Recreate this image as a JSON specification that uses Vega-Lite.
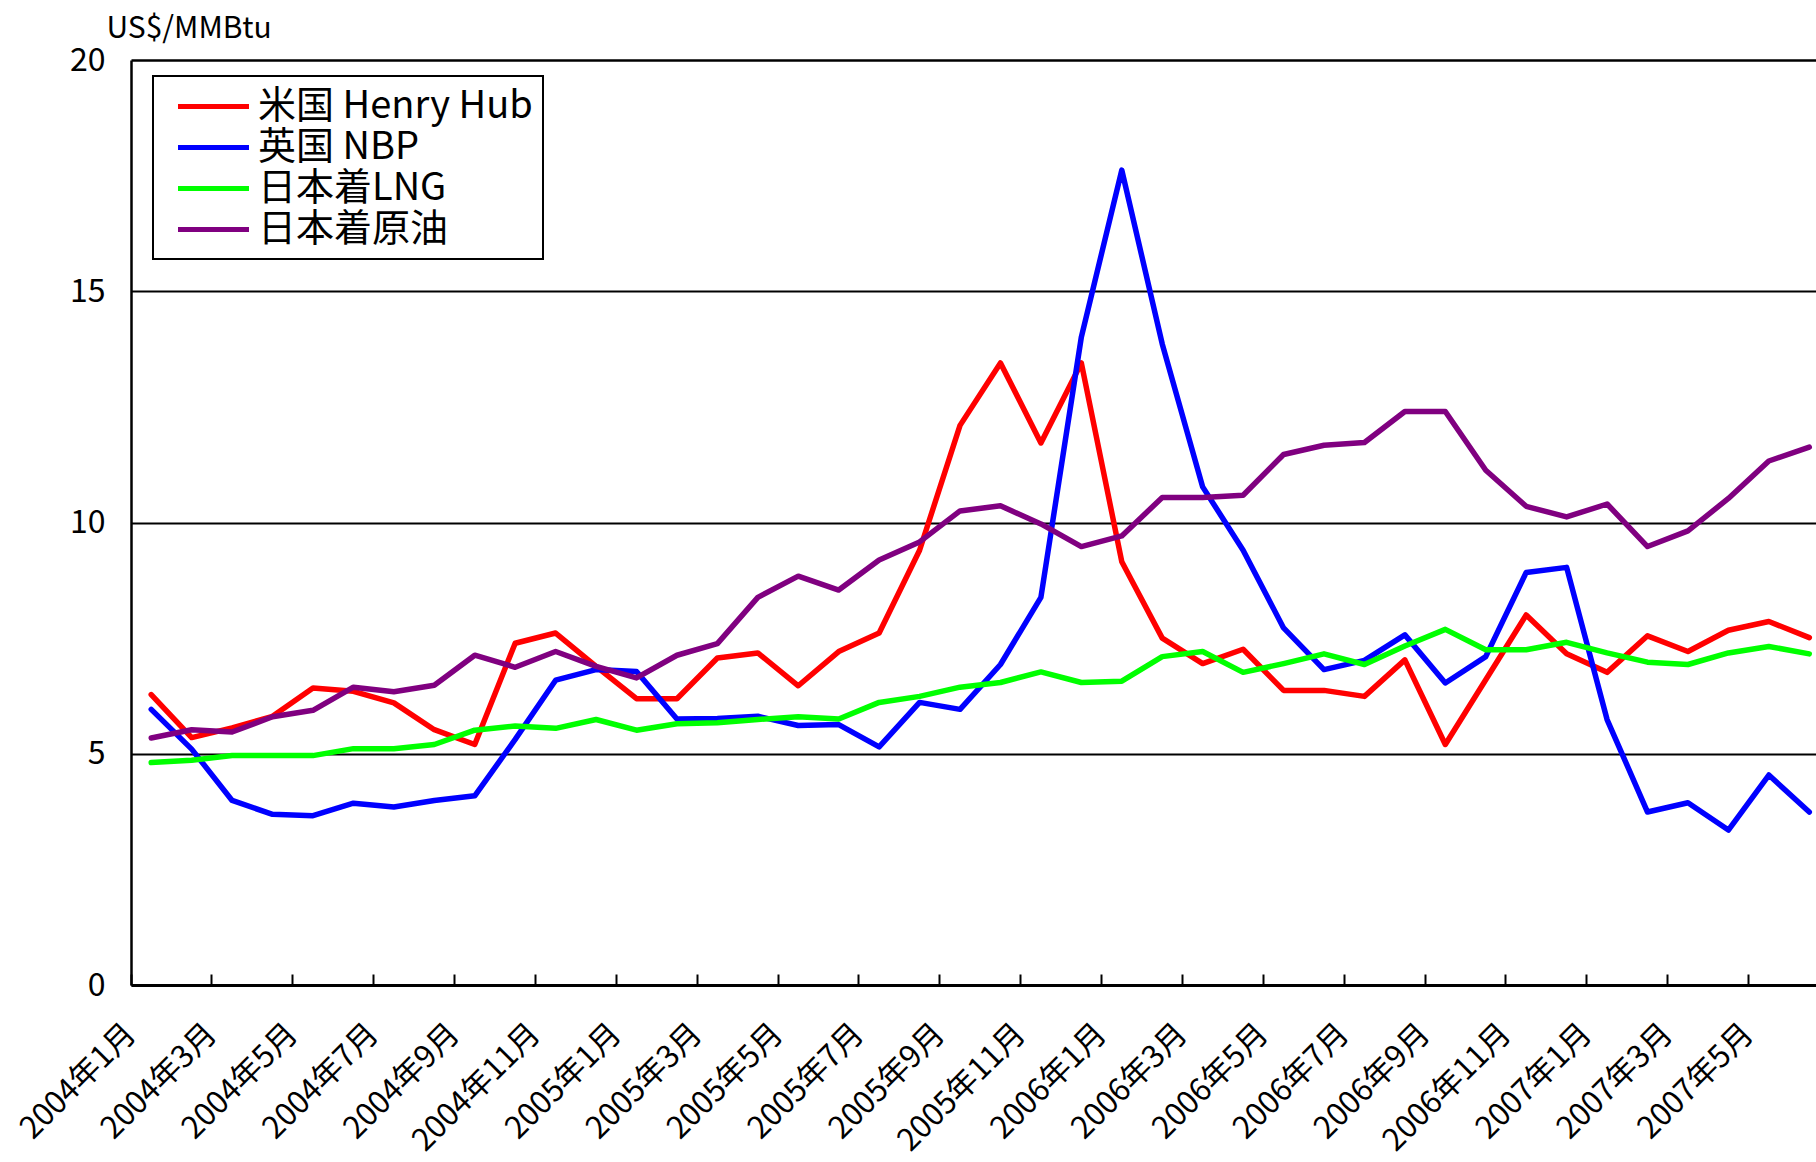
{
  "$schema": "https://vega.github.io/schema/vega-lite/v6.json",
  "autosize": {"type": "none"},
  "padding": {"left": 131, "top": 60, "right": 0, "bottom": 177},
  "width": 1685,
  "height": 925,
  "background": "white",
  "config": {"view": {"stroke": null}, "font": "Noto Sans CJK JP", "legend": {"strokeWidth": 2}},
  "datasets": {
    "prices": [
      {"month":"2004年1月","series":"米国 Henry Hub","value":6.28},{"month":"2004年2月","series":"米国 Henry Hub","value":5.35},{"month":"2004年3月","series":"米国 Henry Hub","value":5.56},{"month":"2004年4月","series":"米国 Henry Hub","value":5.81},{"month":"2004年5月","series":"米国 Henry Hub","value":6.42},{"month":"2004年6月","series":"米国 Henry Hub","value":6.35},{"month":"2004年7月","series":"米国 Henry Hub","value":6.10},{"month":"2004年8月","series":"米国 Henry Hub","value":5.52},{"month":"2004年9月","series":"米国 Henry Hub","value":5.20},{"month":"2004年10月","series":"米国 Henry Hub","value":7.39},{"month":"2004年11月","series":"米国 Henry Hub","value":7.61},{"month":"2004年12月","series":"米国 Henry Hub","value":6.89},
      {"month":"2005年1月","series":"米国 Henry Hub","value":6.19},{"month":"2005年2月","series":"米国 Henry Hub","value":6.19},{"month":"2005年3月","series":"米国 Henry Hub","value":7.07},{"month":"2005年4月","series":"米国 Henry Hub","value":7.18},{"month":"2005年5月","series":"米国 Henry Hub","value":6.47},{"month":"2005年6月","series":"米国 Henry Hub","value":7.21},{"month":"2005年7月","series":"米国 Henry Hub","value":7.61},{"month":"2005年8月","series":"米国 Henry Hub","value":9.40},{"month":"2005年9月","series":"米国 Henry Hub","value":12.10},{"month":"2005年10月","series":"米国 Henry Hub","value":13.45},{"month":"2005年11月","series":"米国 Henry Hub","value":11.72},{"month":"2005年12月","series":"米国 Henry Hub","value":13.45},
      {"month":"2006年1月","series":"米国 Henry Hub","value":9.15},{"month":"2006年2月","series":"米国 Henry Hub","value":7.50},{"month":"2006年3月","series":"米国 Henry Hub","value":6.95},{"month":"2006年4月","series":"米国 Henry Hub","value":7.26},{"month":"2006年5月","series":"米国 Henry Hub","value":6.37},{"month":"2006年6月","series":"米国 Henry Hub","value":6.37},{"month":"2006年7月","series":"米国 Henry Hub","value":6.24},{"month":"2006年8月","series":"米国 Henry Hub","value":7.03},{"month":"2006年9月","series":"米国 Henry Hub","value":5.20},{"month":"2006年10月","series":"米国 Henry Hub","value":6.60},{"month":"2006年11月","series":"米国 Henry Hub","value":8.00},{"month":"2006年12月","series":"米国 Henry Hub","value":7.16},
      {"month":"2007年1月","series":"米国 Henry Hub","value":6.76},{"month":"2007年2月","series":"米国 Henry Hub","value":7.55},{"month":"2007年3月","series":"米国 Henry Hub","value":7.21},{"month":"2007年4月","series":"米国 Henry Hub","value":7.67},{"month":"2007年5月","series":"米国 Henry Hub","value":7.86},{"month":"2007年6月","series":"米国 Henry Hub","value":7.51},

      {"month":"2004年1月","series":"英国 NBP","value":5.96},{"month":"2004年2月","series":"英国 NBP","value":5.10},{"month":"2004年3月","series":"英国 NBP","value":3.99},{"month":"2004年4月","series":"英国 NBP","value":3.69},{"month":"2004年5月","series":"英国 NBP","value":3.66},{"month":"2004年6月","series":"英国 NBP","value":3.93},{"month":"2004年7月","series":"英国 NBP","value":3.85},{"month":"2004年8月","series":"英国 NBP","value":3.99},{"month":"2004年9月","series":"英国 NBP","value":4.09},{"month":"2004年10月","series":"英国 NBP","value":5.31},{"month":"2004年11月","series":"英国 NBP","value":6.59},{"month":"2004年12月","series":"英国 NBP","value":6.82},
      {"month":"2005年1月","series":"英国 NBP","value":6.78},{"month":"2005年2月","series":"英国 NBP","value":5.75},{"month":"2005年3月","series":"英国 NBP","value":5.76},{"month":"2005年4月","series":"英国 NBP","value":5.81},{"month":"2005年5月","series":"英国 NBP","value":5.61},{"month":"2005年6月","series":"英国 NBP","value":5.63},{"month":"2005年7月","series":"英国 NBP","value":5.15},{"month":"2005年8月","series":"英国 NBP","value":6.11},{"month":"2005年9月","series":"英国 NBP","value":5.96},{"month":"2005年10月","series":"英国 NBP","value":6.93},{"month":"2005年11月","series":"英国 NBP","value":8.38},{"month":"2005年12月","series":"英国 NBP","value":14.01},
      {"month":"2006年1月","series":"英国 NBP","value":17.62},{"month":"2006年2月","series":"英国 NBP","value":13.86},{"month":"2006年3月","series":"英国 NBP","value":10.77},{"month":"2006年4月","series":"英国 NBP","value":9.40},{"month":"2006年5月","series":"英国 NBP","value":7.72},{"month":"2006年6月","series":"英国 NBP","value":6.82},{"month":"2006年7月","series":"英国 NBP","value":7.02},{"month":"2006年8月","series":"英国 NBP","value":7.57},{"month":"2006年9月","series":"英国 NBP","value":6.53},{"month":"2006年10月","series":"英国 NBP","value":7.10},{"month":"2006年11月","series":"英国 NBP","value":8.92},{"month":"2006年12月","series":"英国 NBP","value":9.03},
      {"month":"2007年1月","series":"英国 NBP","value":5.74},{"month":"2007年2月","series":"英国 NBP","value":3.74},{"month":"2007年3月","series":"英国 NBP","value":3.94},{"month":"2007年4月","series":"英国 NBP","value":3.35},{"month":"2007年5月","series":"英国 NBP","value":4.54},{"month":"2007年6月","series":"英国 NBP","value":3.74},

      {"month":"2004年1月","series":"日本着LNG","value":4.81},{"month":"2004年2月","series":"日本着LNG","value":4.86},{"month":"2004年3月","series":"日本着LNG","value":4.96},{"month":"2004年4月","series":"日本着LNG","value":4.96},{"month":"2004年5月","series":"日本着LNG","value":4.96},{"month":"2004年6月","series":"日本着LNG","value":5.11},{"month":"2004年7月","series":"日本着LNG","value":5.11},{"month":"2004年8月","series":"日本着LNG","value":5.20},{"month":"2004年9月","series":"日本着LNG","value":5.51},{"month":"2004年10月","series":"日本着LNG","value":5.60},{"month":"2004年11月","series":"日本着LNG","value":5.55},{"month":"2004年12月","series":"日本着LNG","value":5.74},
      {"month":"2005年1月","series":"日本着LNG","value":5.51},{"month":"2005年2月","series":"日本着LNG","value":5.65},{"month":"2005年3月","series":"日本着LNG","value":5.67},{"month":"2005年4月","series":"日本着LNG","value":5.74},{"month":"2005年5月","series":"日本着LNG","value":5.80},{"month":"2005年6月","series":"日本着LNG","value":5.75},{"month":"2005年7月","series":"日本着LNG","value":6.11},{"month":"2005年8月","series":"日本着LNG","value":6.24},{"month":"2005年9月","series":"日本着LNG","value":6.44},{"month":"2005年10月","series":"日本着LNG","value":6.54},{"month":"2005年11月","series":"日本着LNG","value":6.77},{"month":"2005年12月","series":"日本着LNG","value":6.54},
      {"month":"2006年1月","series":"日本着LNG","value":6.57},{"month":"2006年2月","series":"日本着LNG","value":7.10},{"month":"2006年3月","series":"日本着LNG","value":7.21},{"month":"2006年4月","series":"日本着LNG","value":6.76},{"month":"2006年5月","series":"日本着LNG","value":6.95},{"month":"2006年6月","series":"日本着LNG","value":7.16},{"month":"2006年7月","series":"日本着LNG","value":6.93},{"month":"2006年8月","series":"日本着LNG","value":7.33},{"month":"2006年9月","series":"日本着LNG","value":7.69},{"month":"2006年10月","series":"日本着LNG","value":7.25},{"month":"2006年11月","series":"日本着LNG","value":7.25},{"month":"2006年12月","series":"日本着LNG","value":7.41},
      {"month":"2007年1月","series":"日本着LNG","value":7.18},{"month":"2007年2月","series":"日本着LNG","value":6.98},{"month":"2007年3月","series":"日本着LNG","value":6.93},{"month":"2007年4月","series":"日本着LNG","value":7.18},{"month":"2007年5月","series":"日本着LNG","value":7.32},{"month":"2007年6月","series":"日本着LNG","value":7.16},

      {"month":"2004年1月","series":"日本着原油","value":5.34},{"month":"2004年2月","series":"日本着原油","value":5.52},{"month":"2004年3月","series":"日本着原油","value":5.47},{"month":"2004年4月","series":"日本着原油","value":5.80},{"month":"2004年5月","series":"日本着原油","value":5.94},{"month":"2004年6月","series":"日本着原油","value":6.44},{"month":"2004年7月","series":"日本着原油","value":6.34},{"month":"2004年8月","series":"日本着原油","value":6.48},{"month":"2004年9月","series":"日本着原油","value":7.13},{"month":"2004年10月","series":"日本着原油","value":6.87},{"month":"2004年11月","series":"日本着原油","value":7.21},{"month":"2004年12月","series":"日本着原油","value":6.89},
      {"month":"2005年1月","series":"日本着原油","value":6.64},{"month":"2005年2月","series":"日本着原油","value":7.13},{"month":"2005年3月","series":"日本着原油","value":7.38},{"month":"2005年4月","series":"日本着原油","value":8.38},{"month":"2005年5月","series":"日本着原油","value":8.84},{"month":"2005年6月","series":"日本着原油","value":8.54},{"month":"2005年7月","series":"日本着原油","value":9.19},{"month":"2005年8月","series":"日本着原油","value":9.58},{"month":"2005年9月","series":"日本着原油","value":10.25},{"month":"2005年10月","series":"日本着原油","value":10.36},{"month":"2005年11月","series":"日本着原油","value":9.97},{"month":"2005年12月","series":"日本着原油","value":9.48},
      {"month":"2006年1月","series":"日本着原油","value":9.71},{"month":"2006年2月","series":"日本着原油","value":10.54},{"month":"2006年3月","series":"日本着原油","value":10.54},{"month":"2006年4月","series":"日本着原油","value":10.59},{"month":"2006年5月","series":"日本着原油","value":11.47},{"month":"2006年6月","series":"日本着原油","value":11.67},{"month":"2006年7月","series":"日本着原油","value":11.73},{"month":"2006年8月","series":"日本着原油","value":12.40},{"month":"2006年9月","series":"日本着原油","value":12.40},{"month":"2006年10月","series":"日本着原油","value":11.13},{"month":"2006年11月","series":"日本着原油","value":10.35},{"month":"2006年12月","series":"日本着原油","value":10.12},
      {"month":"2007年1月","series":"日本着原油","value":10.40},{"month":"2007年2月","series":"日本着原油","value":9.48},{"month":"2007年3月","series":"日本着原油","value":9.82},{"month":"2007年4月","series":"日本着原油","value":10.52},{"month":"2007年5月","series":"日本着原油","value":11.33},{"month":"2007年6月","series":"日本着原油","value":11.63}
    ]
  },
  "data": {"name": "prices"},
  "mark": {"type": "line", "strokeWidth": 5.5, "strokeJoin": "round", "strokeCap": "round"},
  "encoding": {
    "x": {
      "field": "month", "type": "ordinal", "sort": null, "bandPosition": 0.5,
      "scale": {"type": "band", "paddingInner": 0, "paddingOuter": 0, "range": [0, 1698.5]},
      "axis": {
        "title": null,
        "values": ["2004年1月","2004年3月","2004年5月","2004年7月","2004年9月","2004年11月","2005年1月","2005年3月","2005年5月","2005年7月","2005年9月","2005年11月","2006年1月","2006年3月","2006年5月","2006年7月","2006年9月","2006年11月","2007年1月","2007年3月","2007年5月"],
        "bandPosition": 0,
        "labelAngle": -45, "labelAlign": "right", "labelBaseline": "middle",
        "labelFontSize": 31, "labelColor": "black", "labelPadding": 55, "labelOffset": -20,
        "labelOverlap": false, "labelLimit": 0,
        "ticks": true, "tickSize": -11, "tickColor": "black", "tickWidth": 2,
        "domainColor": "black", "domainWidth": 3, "grid": false
      }
    },
    "y": {
      "field": "value", "type": "quantitative",
      "scale": {"domain": [0, 20], "nice": false},
      "axis": {
        "title": "US$/MMBtu", "titleAngle": 0, "titleAlign": "left", "titleBaseline": "alphabetic",
        "titleX": -25, "titleY": -23, "titleFontSize": 30, "titleFontWeight": "normal", "titleColor": "black",
        "values": [0, 5, 10, 15, 20],
        "labelFontSize": 32, "labelColor": "black", "labelPadding": 26,
        "ticks": false,
        "grid": true, "gridColor": "black", "gridOpacity": 1,
        "gridWidth": {"expr": "datum.value == 20 ? 2.5 : 2"},
        "domainColor": "black", "domainWidth": 2.5
      }
    },
    "color": {
      "field": "series", "type": "nominal",
      "scale": {"domain": ["米国 Henry Hub", "英国 NBP", "日本着LNG", "日本着原油"], "range": ["#ff0000", "#0000ff", "#00ff00", "#800080"]},
      "legend": {
        "title": null, "orient": "none", "legendX": 22, "legendY": 16, "direction": "vertical",
        "symbolType": "M-2,0H2", "symbolSize": 1260, "symbolStrokeWidth": 5, "symbolOffset": 30,
        "labelFontSize": 38, "labelColor": "black", "labelOffset": 24, "labelLimit": 0,
        "rowPadding": 1, "padding": 10,
        "strokeColor": "black", "fillColor": "white"
      }
    }
  }
}
